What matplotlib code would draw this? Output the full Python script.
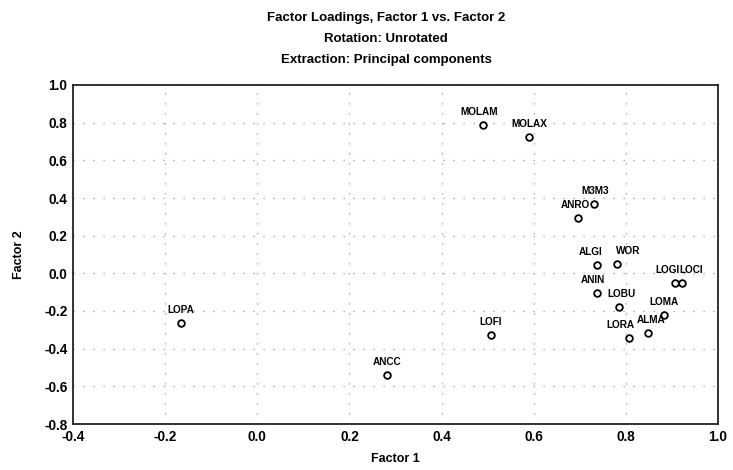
import matplotlib
matplotlib.use("Agg")
import matplotlib.pyplot as plt

plt.rcParams['font.family'] = ['Liberation Sans', 'DejaVu Sans']

names = ["MOLAM", "MOLAX", "M3M3", "ANRO", "ALGI", "WOR", "LOGI", "LOCI",
         "ANIN", "LOBU", "LOMA", "ALMA", "LORA", "LOPA", "LOFI", "ANCC"]
factor1 = [0.490, 0.590, 0.731, 0.696, 0.737, 0.781, 0.907, 0.922,
           0.737, 0.785, 0.883, 0.848, 0.807, -0.166, 0.507, 0.282]
factor2 = [0.788, 0.724, 0.368, 0.294, 0.044, 0.049, -0.052, -0.052,
           -0.104, -0.178, -0.221, -0.317, -0.343, -0.264, -0.328, -0.540]
xticks = [-0.4, -0.2, 0.0, 0.2, 0.4, 0.6, 0.8, 1.0]
yticks = [-0.8, -0.6, -0.4, -0.2, 0.0, 0.2, 0.4, 0.6, 0.8, 1.0]

fig = plt.figure(figsize=(7.33, 4.70), dpi=100)
ax = fig.add_axes([73/733, 1-424/470, (718-73)/733, (424-85)/470])

ax.plot(factor1, factor2, linestyle='none', marker='o', markersize=4.8,
        markerfacecolor='white', markeredgecolor='black', markeredgewidth=1.3, zorder=3)

# label placement (offset in points, horizontal alignment)
place = {"ALGI": (4, 'right'), "WOR": (-1, 'left'), "LOGI": (3, 'right'),
         "LOCI": (-2, 'left'), "LORA": (-6, 'center'), "ALMA": (2, 'center'),
         "MOLAM": (-3, 'center'), "MOLAX": (0, 'center'), "ANIN": (-3, 'center'),
         "LOBU": (2, 'center'), "M3M3": (1, 'center'), "ANRO": (-2, 'center')}
for n, x, y in zip(names, factor1, factor2):
    dx, ha = place.get(n, (0, 'center'))
    ax.annotate(n, (x, y), xytext=(dx, 5.5), textcoords='offset points',
                ha=ha, va='bottom', fontsize=7.2, fontweight='bold', zorder=4)

ax.set_xlim(-0.4, 1.0)
ax.set_ylim(-0.8, 1.0)
ax.set_xticks(xticks)
ax.set_yticks(yticks)
ax.set_xticklabels([f"{t:.1f}" for t in xticks])
ax.set_yticklabels([f"{t:.1f}" for t in yticks])
ax.grid(True, color='#999999', linestyle=(0, (1, 7)), linewidth=0.9)
ax.tick_params(length=0, labelsize=9.8, pad=4)
for lab in ax.get_xticklabels() + ax.get_yticklabels():
    lab.set_fontweight('bold')
for s in ax.spines.values():
    s.set_linewidth(1.3)
    s.set_color('#222222')

ax.set_xlabel("Factor 1", fontsize=9, fontweight='bold', labelpad=7)
ax.set_ylabel("Factor 2", fontsize=9, fontweight='bold', labelpad=14)

fig.text(386/733, 1-18/470, "Factor Loadings, Factor 1 vs. Factor 2", ha='center', va='center',
         fontsize=9.5, fontweight='bold')
fig.text(386/733, 1-39/470, "Rotation: Unrotated", ha='center', va='center',
         fontsize=9.5, fontweight='bold')
fig.text(386/733, 1-60/470, "Extraction: Principal components", ha='center', va='center',
         fontsize=9.5, fontweight='bold')

fig.savefig("out.png", dpi=100)
